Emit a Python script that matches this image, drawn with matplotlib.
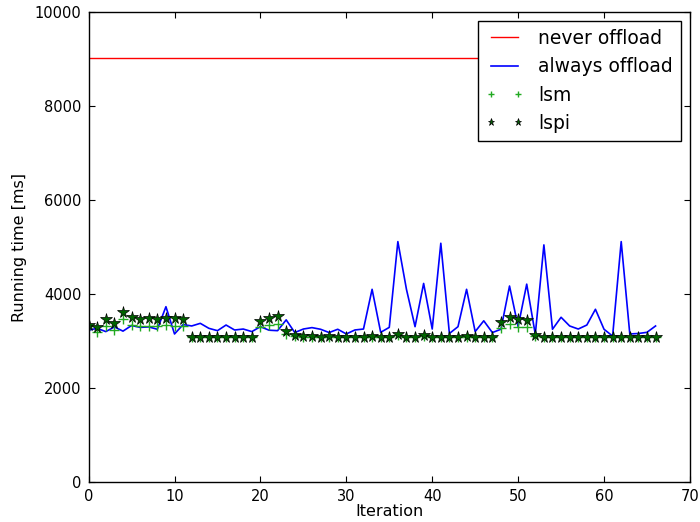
import matplotlib
matplotlib.use("Agg")
import matplotlib.pyplot as plt

iterations = list(range(67))

never_offload = [9020] * 67

always_offload = [
    3230, 3270, 3200, 3300, 3210, 3330, 3290, 3300, 3250, 3730,
    3150, 3350, 3320, 3376, 3270, 3220, 3340, 3234, 3255, 3200,
    3305, 3230, 3220, 3450, 3180, 3255, 3285, 3250, 3180, 3250,
    3150, 3235, 3255, 4100, 3185, 3290, 5115, 4100, 3305, 4225,
    3255, 5080, 3160, 3305, 4100, 3200, 3430, 3180, 3250, 4170,
    3305, 4210, 3140, 5045, 3250, 3505, 3320, 3255, 3340, 3675,
    3250, 3105, 5115, 3150, 3160, 3185, 3320,
]

lsm = [
    3310, 3200, 3330, 3240, 3460, 3350, 3310, 3310, 3330, 3340,
    3310, 3320, 3085, 3085, 3085, 3085, 3085, 3085, 3085, 3085,
    3305, 3340, 3360, 3150, 3100, 3085, 3085, 3080, 3085, 3080,
    3080, 3080, 3080, 3090, 3080, 3080, 3120, 3080, 3080, 3110,
    3080, 3080, 3080, 3080, 3095, 3080, 3080, 3080, 3270, 3355,
    3305, 3305, 3100, 3080, 3080, 3080, 3080, 3080, 3080, 3080,
    3080, 3080, 3080, 3080, 3080, 3080, 3080,
]

lspi = [
    3350, 3290, 3465, 3385, 3625, 3510, 3460, 3480, 3460, 3480,
    3480, 3460, 3090, 3090, 3090, 3090, 3090, 3090, 3090, 3090,
    3435, 3480, 3530, 3210, 3130, 3110, 3105, 3095, 3110, 3090,
    3095, 3090, 3095, 3110, 3090, 3095, 3150, 3090, 3095, 3135,
    3090, 3090, 3090, 3090, 3115, 3090, 3090, 3090, 3410, 3505,
    3460, 3445, 3125, 3095, 3090, 3090, 3090, 3090, 3090, 3090,
    3090, 3090, 3090, 3090, 3090, 3090, 3090,
]

plt.rcParams['font.family'] = ['DejaVu Sans']

fig = plt.figure(figsize=(7, 5.22), dpi=100)
ax = fig.add_axes([0.1266, 0.0766, 0.859, 0.9004])

ax.plot(iterations, never_offload, color='#ff0000', lw=1.0, label='never offload')
ax.plot(iterations, always_offload, color='#0000ff', lw=1.2, label='always offload')
ax.plot(iterations, lsm, linestyle='none', marker='+', color='#22aa22',
        markersize=7, markeredgewidth=1.0, label='lsm')
ax.plot(iterations, lspi, linestyle='none', marker='*', markerfacecolor='#006400',
        markeredgecolor='black', markeredgewidth=0.5, markersize=8.5, label='lspi')

ax.set_xlim(0, 70)
ax.set_ylim(0, 10000)
ax.set_xticks(range(0, 71, 10))
ax.set_yticks(range(0, 10001, 2000))
ax.tick_params(direction='in', top=True, right=True, length=4, width=0.8,
               labelsize=10.5, pad=5)
ax.set_xlabel('Iteration', fontsize=11.5, labelpad=0)
ax.set_ylabel('Running time [ms]', fontsize=11.5, labelpad=6)
for s in ax.spines.values():
    s.set_linewidth(1.0)

leg = ax.legend(loc='upper right', numpoints=2, fontsize=13.5, fancybox=False,
                framealpha=1, edgecolor='black', borderaxespad=0.5,
                handlelength=2.0, handletextpad=0.8, labelspacing=0.5,
                borderpad=0.4, markerscale=0.6)
leg.get_frame().set_linewidth(1.0)

fig.savefig('out.png', dpi=100)
